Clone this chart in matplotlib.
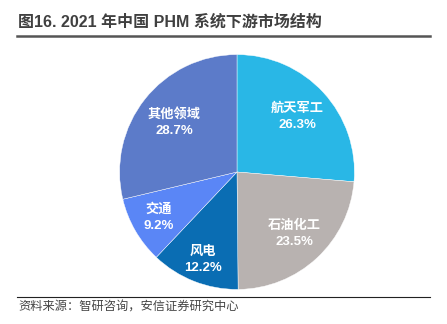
import numpy as np
import matplotlib.pyplot as plt
from matplotlib.lines import Line2D

plt.rcParams['font.family'] = ['Liberation Sans', 'Noto Sans CJK SC', 'DejaVu Sans']

# data
categorias = ['航天军工', '石油化工', '风电', '交通', '其他领域']
valores = [26.3, 23.5, 12.2, 9.2, 28.7]
cores = ['#29b7e6', '#b8b2b0', '#0a6db3', '#5a86f6', '#5c7bc9']
dist_rotulo = [0.70, 0.72, 0.80, 0.77, 0.68]

W, H = 447, 324
fig = plt.figure(figsize=(W / 100, H / 100), dpi=100)

# eixo da pizza: centro (237,172) px, raio 118 px
cx, cy, r = 237, 172, 118
ax = fig.add_axes([(cx - r) / W, (H - cy - r) / H, 2 * r / W, 2 * r / H])
wedges, _ = ax.pie(valores, colors=cores, startangle=90, counterclock=False,
                   radius=1, wedgeprops=dict(edgecolor='white', linewidth=0.3))
ax.set_xlim(-1.005, 1.005)
ax.set_ylim(-1.005, 1.005)
ax.set_aspect('equal')
ax.axis('off')

for w, cat, v, d in zip(wedges, categorias, valores, dist_rotulo):
    ang = np.deg2rad((w.theta1 + w.theta2) / 2)
    x, y = d * np.cos(ang), d * np.sin(ang)
    ax.text(x, y, f'{cat}\n{v}%', ha='center', va='center', color='white',
            fontsize=9.5, fontweight='bold', linespacing=1.45)

# titulo e linhas
fig.text(18 / W, 1 - 22 / H, '图16. 2021 年中国 PHM 系统下游市场结构', ha='left', va='center',
         fontsize=11.5, fontweight='bold', color='#404040')
fig.add_artist(Line2D([17 / W, 430 / W], [1 - 36 / H, 1 - 36 / H], color='#555555', linewidth=1.8))
fig.add_artist(Line2D([17 / W, 430 / W], [1 - 297 / H, 1 - 297 / H], color='#222222', linewidth=0.8))
fig.text(18 / W, 1 - 308 / H, '资料来源：智研咨询，安信证券研究中心', ha='left', va='center',
         fontsize=8.8, style='italic', color='#444444')

fig.savefig('out.png', dpi=100)
